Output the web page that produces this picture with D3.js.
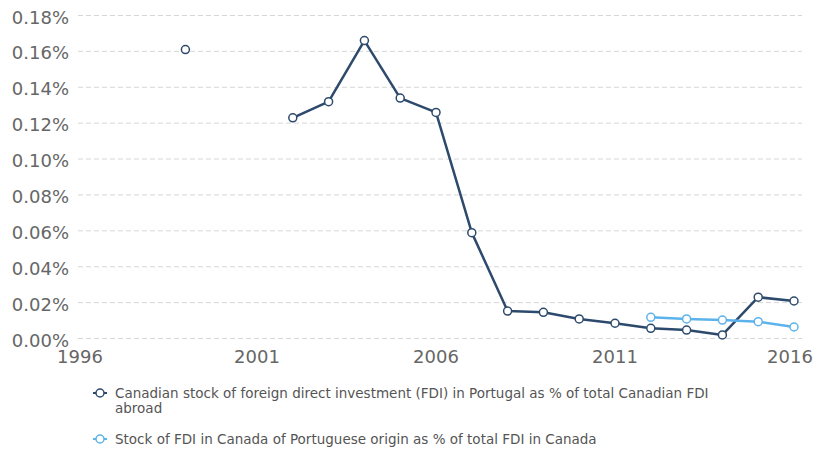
<!DOCTYPE html>
<html>
<head>
<meta charset="utf-8">
<script src="https://cdn.jsdelivr.net/npm/d3@7"></script>
<style>
  body { margin: 0; background: #fff; }
  svg { display: block; font-family: "DejaVu Sans", sans-serif; }
  .tick-label { fill: #666; font-size: 18px; }
  .legend-text { fill: #555; font-size: 13.5px; }
</style>
</head>
<body>
<svg id="chart"></svg>
<script>
const WIDTH = 817;
const HEIGHT = 449;

const years = d3.range(1996, 2017);
const xTicks = [1996, 2001, 2006, 2011, 2016];
const yTicks = [0, 0.02, 0.04, 0.06, 0.08, 0.10, 0.12, 0.14, 0.16, 0.18];

// values in percent, null where no data
const canadaInPortugal = [null, null, null, 0.161, null, null, 0.123, 0.132, 0.166, 0.134, 0.126,
    0.059, 0.0153, 0.0146, 0.0109, 0.0085, 0.0057, 0.0047, 0.0020, 0.0230, 0.0209];
const portugalInCanada = [null, null, null, null, null, null, null, null, null, null, null,
    null, null, null, null, null, 0.0118, 0.0109, 0.0103, 0.0094, 0.0064];

const series = [
    {name: 'Canadian stock of foreign direct investment (FDI) in Portugal as % of total Canadian FDI abroad',
     values: canadaInPortugal, color: '#2d4a6c'},
    {name: 'Stock of FDI in Canada of Portuguese origin as % of total FDI in Canada',
     values: portugalInCanada, color: '#5cb3ec'}
];

const svg = d3.select('#chart').attr('width', WIDTH).attr('height', HEIGHT);

const x = d3.scaleLinear().domain([1996, 2016]).range([78, 794]);
const y = d3.scaleLinear().domain([0, 0.18]).range([338.5, 15.5]);

// grid
svg.append('g')
    .selectAll('line')
    .data(yTicks)
    .enter()
    .append('line')
    .attr('x1', 78)
    .attr('x2', 802)
    .attr('y1', d => y(d))
    .attr('y2', d => y(d))
    .attr('stroke', '#d6d6d6')
    .attr('stroke-width', 1)
    .attr('stroke-dasharray', '5,3');

// y labels
svg.append('g')
    .selectAll('text')
    .data(yTicks)
    .enter()
    .append('text')
    .attr('class', 'tick-label')
    .attr('text-anchor', 'end')
    .attr('x', 69)
    .attr('y', d => y(d) + 8)
    .text(d => d3.format('.2f')(d) + '%');

// x labels, edge labels pulled inside like the original
const xLabelPos = {1996: x(1996) + 2, 2016: x(2016) - 4};
svg.append('g')
    .selectAll('text')
    .data(xTicks)
    .enter()
    .append('text')
    .attr('class', 'tick-label')
    .attr('text-anchor', 'middle')
    .attr('x', d => xLabelPos[d] !== undefined ? xLabelPos[d] : x(d))
    .attr('y', 363)
    .text(d => d);

const line = d3.line()
    .defined(d => d.v !== null)
    .x(d => x(d.year))
    .y(d => y(d.v));

series.forEach(s => {
    const pts = years.map((yr, i) => ({year: yr, v: s.values[i]}));
    const g = svg.append('g');
    g.append('path')
        .datum(pts)
        .attr('d', line)
        .attr('fill', 'none')
        .attr('stroke', s.color)
        .attr('stroke-width', 2.5)
        .attr('stroke-linejoin', 'round');
    g.selectAll('circle')
        .data(pts.filter(d => d.v !== null))
        .enter()
        .append('circle')
        .attr('cx', d => x(d.year))
        .attr('cy', d => y(d.v))
        .attr('r', 4)
        .attr('fill', '#fff')
        .attr('stroke', s.color)
        .attr('stroke-width', 1.5);
});

// legend
const legendY = [393, 439];
const legend = svg.append('g');
series.forEach((s, i) => {
    const ly = legendY[i];
    legend.append('line')
        .attr('x1', 93).attr('x2', 107)
        .attr('y1', ly).attr('y2', ly)
        .attr('stroke', s.color).attr('stroke-width', 2);
    legend.append('circle')
        .attr('cx', 100).attr('cy', ly).attr('r', 4)
        .attr('fill', '#fff').attr('stroke', s.color).attr('stroke-width', 1.5);

    const text = legend.append('text')
        .attr('class', 'legend-text')
        .attr('x', 115)
        .attr('y', ly + 4.5);
    // wrap to a fixed width
    const words = s.name.split(' ');
    let tspan = text.append('tspan').attr('x', 115);
    let current = [];
    words.forEach(w => {
        current.push(w);
        tspan.text(current.join(' '));
        if (tspan.node().getComputedTextLength() > 600 && current.length > 1) {
            current.pop();
            tspan.text(current.join(' '));
            current = [w];
            tspan = text.append('tspan').attr('x', 115).attr('dy', 15).text(w);
        }
    });
});
</script>
</body>
</html>
